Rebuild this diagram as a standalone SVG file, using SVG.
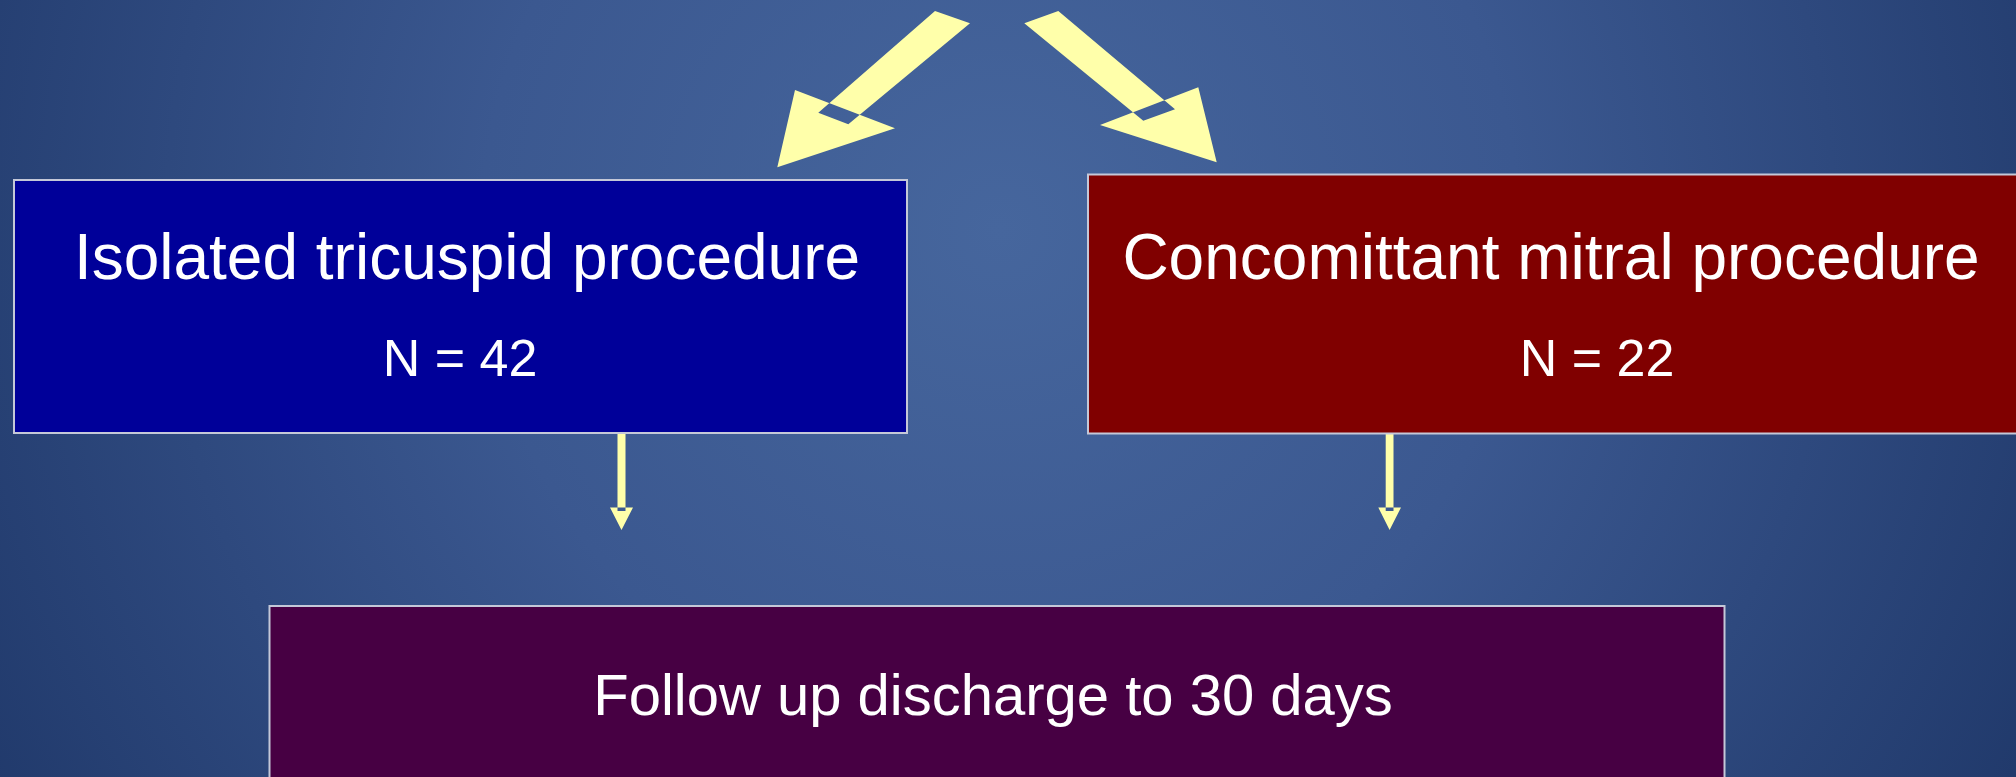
<svg xmlns="http://www.w3.org/2000/svg" width="2016" height="777" viewBox="0 0 2016 777">
<defs>
<radialGradient id="bg" cx="1000" cy="230" r="1150" gradientUnits="userSpaceOnUse">
<stop offset="0" stop-color="#46669d"/>
<stop offset="0.45" stop-color="#3b5890"/>
<stop offset="1" stop-color="#213a6c"/>
</radialGradient>
</defs>
<style>
.box{stroke:#c4c8d8;stroke-width:2}
.t{font-family:"Liberation Sans",Arial,sans-serif;fill:#ffffff;text-anchor:middle}
.big{font-size:64px}
.n{font-size:52px}
.f{font-size:58px}
.arr{fill:#ffffaa;fill-rule:evenodd}
</style>
<rect x="0" y="0" width="2016" height="777" fill="url(#bg)"/>
<g id="connectors">
<path class="arr" d="M935,11 L970,23.3 L848.3,124.3 L818.3,112.7 Z M795,90 L895,128.3 L777.3,167.3 Z"/>
<path class="arr" d="M1058.3,11 L1024.3,23.3 L1143.3,120.7 L1175,109.3 Z M1100,125 L1198.3,87.3 L1216.7,162.3 Z"/>
<path class="arr" d="M617.5,434 L625.5,434 L625.5,511 L617.5,511 Z M610,507.5 L633,507.5 L621.5,530 Z"/>
<path class="arr" d="M1385.7,434 L1393.5,434 L1393.5,511 L1385.7,511 Z M1378.3,507.5 L1401,507.5 L1389.6,530 Z"/>
</g>
<g id="node-isolated">
<rect class="box" x="14" y="180" width="893" height="253" fill="#000099"/>
<text class="t big" x="467" y="279">Isolated tricuspid procedure</text>
<text class="t n" x="460" y="376">N = 42</text>
</g>
<g id="node-mitral">
<rect class="box" x="1088" y="174.5" width="940" height="259" fill="#800000"/>
<text class="t big" x="1551" y="279">Concomittant mitral procedure</text>
<text class="t n" x="1597" y="376">N = 22</text>
</g>
<g id="node-followup">
<rect class="box" x="269.5" y="606" width="1455" height="180" fill="#470043"/>
<text class="t f" x="993" y="715">Follow up discharge to 30 days</text>
</g>
</svg>
